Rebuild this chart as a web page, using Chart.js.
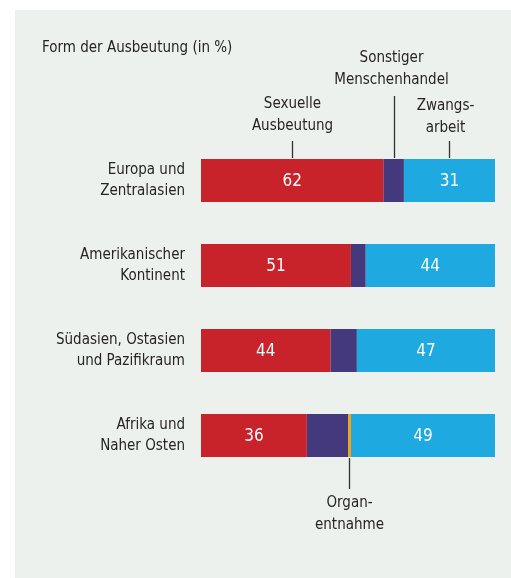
<!DOCTYPE html>
<html>
<head>
<meta charset="utf-8">
<script src="https://cdn.jsdelivr.net/npm/chart.js@4"></script>
<style>
  html, body { margin: 0; padding: 0; background: #ffffff; }
  #panel { position: absolute; left: 15px; top: 10px; right: 0; bottom: 0; background: #edf1ed; }
  #wrap { position: absolute; left: 0; top: 0; width: 511px; height: 578px; }
</style>
</head>
<body>
<div id="panel"></div>
<div id="wrap"><canvas id="chart" width="511" height="578"></canvas></div>
<script>
const FONT = '"Liberation Sans Narrow", "DejaVu Sans Condensed", "Roboto", sans-serif';
const TEXT = '#252525';

const regions = [
    ['Europa und', 'Zentralasien'],
    ['Amerikanischer', 'Kontinent'],
    ['Südasien, Ostasien', 'und Pazifikraum'],
    ['Afrika und', 'Naher Osten']
];
const sexuelle = [62, 51, 44, 36];
const sonstiger = [7, 5, 9, 14];
const organ = [0, 0, 0, 1];
const zwangsarbeit = [31, 44, 47, 49];

const chartTitle = 'Form der Ausbeutung (in %)';

// annotation texts, attached to a dataset and a row
const notes = [
    { dataset: 0, row: 0, lines: ['Sexuelle', 'Ausbeutung'], textY: 104, lineTop: 141, side: 'top' },
    { dataset: 1, row: 0, lines: ['Sonstiger', 'Menschenhandel'], textY: 58, lineTop: 96, side: 'top', dx: -3 },
    { dataset: 3, row: 0, lines: ['Zwangs-', 'arbeit'], textY: 106, lineTop: 141, side: 'top', dx: -4 },
    { dataset: 2, row: 3, lines: ['Organ-', 'entnahme'], textY: 503, lineBottom: 489, side: 'bottom' }
];

const valueLabels = {
    id: 'valueLabels',
    afterDatasetsDraw(chart) {
        const ctx = chart.ctx;
        ctx.save();
        ctx.font = '17px ' + FONT;
        ctx.fillStyle = '#ffffff';
        ctx.textAlign = 'center';
        ctx.textBaseline = 'middle';
        chart.data.datasets.forEach((ds, i) => {
            if (!ds.showValue) return;
            chart.getDatasetMeta(i).data.forEach((bar, j) => {
                const v = ds.data[j];
                if (!v) return;
                ctx.fillText(v, (bar.x + bar.base) / 2, bar.y + 1);
            });
        });
        ctx.restore();
    }
};

const annotations = {
    id: 'annotations',
    afterDraw(chart) {
        const ctx = chart.ctx;
        ctx.save();
        ctx.fillStyle = TEXT;
        ctx.font = '15px ' + FONT;
        ctx.textBaseline = 'middle';
        ctx.textAlign = 'left';
        ctx.fillText(chartTitle, 42, 48);

        ctx.textAlign = 'center';
        ctx.strokeStyle = '#333333';
        ctx.lineWidth = 1.3;
        notes.forEach(n => {
            const bar = chart.getDatasetMeta(n.dataset).data[n.row];
            const cx = Math.round((bar.x + bar.base) / 2) + 0.5;
            const h = bar.height;
            ctx.beginPath();
            if (n.side === 'top') {
                ctx.moveTo(cx, n.lineTop);
                ctx.lineTo(cx, bar.y - h / 2 - 1);
            } else {
                ctx.moveTo(cx, bar.y + h / 2 + 1);
                ctx.lineTo(cx, n.lineBottom);
            }
            ctx.stroke();
            n.lines.forEach((t, k) => {
                ctx.fillText(t, cx + (n.dx || 0), n.textY + k * 22.5);
            });
        });
        ctx.restore();
    }
};

const pct = 43 / 85;

new Chart(document.getElementById('chart'), {
    type: 'bar',
    data: {
        labels: regions,
        datasets: [
            { label: 'Sexuelle Ausbeutung', data: sexuelle, backgroundColor: '#c8222b', showValue: true },
            { label: 'Sonstiger Menschenhandel', data: sonstiger, backgroundColor: '#44397c' },
            { label: 'Organentnahme', data: organ, backgroundColor: '#f2a31b' },
            { label: 'Zwangsarbeit', data: zwangsarbeit, backgroundColor: '#1eaae1', showValue: true }
        ]
    },
    options: {
        indexAxis: 'y',
        responsive: false,
        animation: false,
        layout: { padding: { top: 138, bottom: 100, right: 16, left: 0 } },
        datasets: {
            bar: { barPercentage: pct, categoryPercentage: 1, borderWidth: 0, borderSkipped: false }
        },
        scales: {
            x: { stacked: true, min: 0, max: 100, display: false },
            y: {
                stacked: true,
                border: { display: false },
                grid: { display: false, drawTicks: false },
                ticks: {
                    color: TEXT,
                    padding: 16,
                    font: { family: FONT, size: 15, lineHeight: 1.45 }
                },
                afterFit(scale) { scale.width = 201; }
            }
        },
        plugins: {
            legend: { display: false },
            tooltip: { enabled: false }
        }
    },
    plugins: [valueLabels, annotations]
});
</script>
</body>
</html>
